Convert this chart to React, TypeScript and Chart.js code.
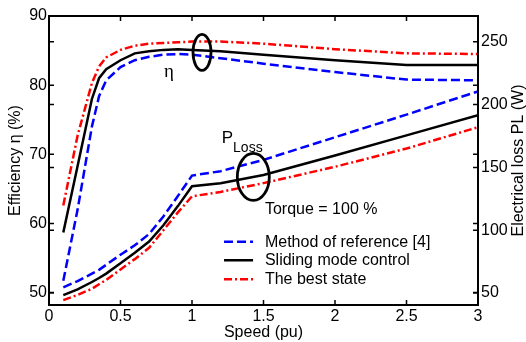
import React, { useEffect, useRef } from "react";
import { Chart, registerables } from "chart.js";

Chart.register(...registerables);

// ---- data ----
const speed = [0.1, 0.2, 0.3, 0.35, 0.4, 0.5, 0.6, 0.7, 0.8, 0.9, 1.0, 1.2, 1.5, 2, 2.5, 3];

const effReference = [51.7, 62.0, 74.0, 78.4, 80.7, 82.6, 83.6, 84.1, 84.4, 84.5, 84.4, 83.9, 83.1, 81.9, 80.8, 80.7];
const effSliding = [58.7, 68.3, 78.0, 81.0, 82.3, 83.6, 84.6, 84.9, 85.1, 85.2, 85.1, 84.9, 84.4, 83.6, 82.9, 82.9];
const effBest = [62.6, 72.7, 80.3, 82.7, 84.0, 85.1, 85.7, 86.0, 86.1, 86.2, 86.3, 86.3, 86.0, 85.2, 84.6, 84.5];

const lossReference = [54.6, 59.5, 65.4, 68.5, 72.5, 80.5, 88, 97, 111, 127, 143.5, 147, 156, 174, 192, 210.5];
const lossSliding = [48.4, 53, 58.8, 62, 65.5, 73.8, 82, 91, 104, 119, 135, 137.4, 144, 159.5, 175.5, 191.5];
const lossBest = [44.4, 48.5, 53.4, 57, 60.5, 68.8, 77, 86, 100, 114, 127, 130.5, 137.5, 150.5, 165, 182];

const xTicks = [0, 0.5, 1, 1.5, 2, 2.5, 3];
const effTicks = [50, 60, 70, 80, 90];
const lossTicks = [50, 100, 150, 200, 250];

const seriesNames = ["Method of reference [4]", "Sliding mode control", "The best state"];
const seriesColors = ["#0000ff", "#000000", "#ff0000"];
const seriesDash: number[][] = [[9, 4], [], [8, 3, 2, 3]];

const FONT = "'Liberation Sans', Arial, Helvetica, sans-serif";

function pts(ys: number[]) {
  return speed.map((x, i) => ({ x, y: ys[i] }));
}

const decor = {
  id: "decor",
  afterDatasetsDraw(chart: any) {
    const { ctx, chartArea: a, scales } = chart;
    const sx = scales.x, sy = scales.y, sy1 = scales.y1;
    ctx.save();
    ctx.strokeStyle = "#000";
    ctx.fillStyle = "#000";
    ctx.setLineDash([]);

    // inward tick marks (both sides)
    ctx.lineWidth = 1.5;
    const tl = 5;
    ctx.beginPath();
    xTicks.forEach((v) => {
      const px = sx.getPixelForValue(v);
      ctx.moveTo(px, a.bottom);
      ctx.lineTo(px, a.bottom - tl);
      ctx.moveTo(px, a.top);
      ctx.lineTo(px, a.top + tl);
    });
    const ys = [
      ...effTicks.map((v) => sy.getPixelForValue(v)),
      ...lossTicks.map((v) => sy1.getPixelForValue(v)),
    ];
    ys.forEach((py) => {
      ctx.moveTo(a.left, py);
      ctx.lineTo(a.left + tl, py);
      ctx.moveTo(a.right, py);
      ctx.lineTo(a.right - tl, py);
    });
    ctx.stroke();

    // box
    ctx.lineWidth = 2;
    ctx.strokeRect(a.left, a.top, a.right - a.left, a.bottom - a.top);

    // ellipses
    ctx.lineWidth = 2.8;
    ctx.beginPath();
    ctx.ellipse(sx.getPixelForValue(1.07), sy.getPixelForValue(84.75), 9, 18, 0, 0, Math.PI * 2);
    ctx.stroke();
    ctx.beginPath();
    ctx.ellipse(sx.getPixelForValue(1.4287), sy1.getPixelForValue(142.4), 16, 23.5, 0, 0, Math.PI * 2);
    ctx.stroke();

    // eta label
    ctx.textBaseline = "alphabetic";
    ctx.textAlign = "center";
    ctx.font = "19px 'Liberation Serif', 'DejaVu Serif', serif";
    ctx.fillText("\u03b7", sx.getPixelForValue(0.839), sy.getPixelForValue(81.18));

    // P_Loss label
    ctx.textAlign = "left";
    const pX = sx.getPixelForValue(1.208);
    ctx.font = `17px ${FONT}`;
    ctx.fillText("P", pX, sy1.getPixelForValue(169.2));
    const pw = ctx.measureText("P").width;
    ctx.font = `14px ${FONT}`;
    ctx.fillText("Loss", pX + pw, sy1.getPixelForValue(162.5));

    // Torque text
    ctx.font = `16px ${FONT}`;
    ctx.fillText("Torque = 100 %", sx.getPixelForValue(1.51), sy1.getPixelForValue(112.8));

    // legend
    const legY = [90.9, 76.1, 61.0];
    ctx.textBaseline = "middle";
    seriesNames.forEach((name, i) => {
      const y = sy1.getPixelForValue(legY[i]);
      ctx.save();
      ctx.strokeStyle = seriesColors[i];
      ctx.lineWidth = 2.5;
      ctx.setLineDash(seriesDash[i]);
      ctx.beginPath();
      ctx.moveTo(sx.getPixelForValue(1.224), y);
      ctx.lineTo(sx.getPixelForValue(1.427), y);
      ctx.stroke();
      ctx.restore();
      ctx.fillText(name, sx.getPixelForValue(1.51), y + 0.5);
    });

    // right axis title (reads bottom to top)
    ctx.save();
    ctx.translate(519, (a.top + a.bottom) / 2);
    ctx.rotate(-Math.PI / 2);
    ctx.textAlign = "center";
    ctx.textBaseline = "middle";
    ctx.font = `16px ${FONT}`;
    ctx.fillText("Electrical loss PL (W)", 0, 0);
    ctx.restore();

    ctx.restore();
  },
};

export default function App() {
  const ref = useRef<HTMLCanvasElement | null>(null);

  useEffect(() => {
    if (!ref.current) return;
    Chart.defaults.font.family = FONT;
    Chart.defaults.font.size = 16;
    Chart.defaults.color = "#000";

    const mk = (label: string, ys: number[], i: number, axis: string) => ({
      label,
      data: pts(ys),
      yAxisID: axis,
      borderColor: seriesColors[i],
      borderWidth: 2.5,
      borderDash: seriesDash[i],
      pointRadius: 0,
      tension: 0,
      fill: false,
    });

    const chart = new Chart(ref.current, {
      type: "line",
      data: {
        datasets: [
          mk(seriesNames[0] + " (η)", effReference, 0, "y"),
          mk(seriesNames[1] + " (η)", effSliding, 1, "y"),
          mk(seriesNames[2] + " (η)", effBest, 2, "y"),
          mk(seriesNames[0] + " (PL)", lossReference, 0, "y1"),
          mk(seriesNames[1] + " (PL)", lossSliding, 1, "y1"),
          mk(seriesNames[2] + " (PL)", lossBest, 2, "y1"),
        ],
      },
      options: {
        responsive: false,
        animation: false,
        devicePixelRatio: 1,
        layout: { padding: { top: 16, left: 0, right: 0, bottom: 0 } },
        plugins: { legend: { display: false }, tooltip: { enabled: false }, title: { display: false } },
        scales: {
          x: {
            type: "linear",
            min: 0,
            max: 3,
            grid: { display: false, drawTicks: false },
            border: { display: false },
            ticks: {
              padding: 2,
              maxRotation: 0,
              autoSkip: false,
              font: { size: 16 },
              callback: (v: any) => String(Number(v)),
            },
            afterBuildTicks: (s: any) => { s.ticks = xTicks.map((v) => ({ value: v })); },
            afterFit: (s: any) => { s.height = 37; },
            title: { display: true, text: "Speed (pu)", padding: { top: 0, bottom: 0 }, font: { size: 16 } },
          },
          y: {
            type: "linear",
            position: "left",
            min: 48.2,
            max: 90,
            grid: { display: false, drawTicks: false },
            border: { display: false },
            ticks: { padding: 2, autoSkip: false, font: { size: 16 }, callback: (v: any) => String(Number(v)) },
            afterBuildTicks: (s: any) => { s.ticks = effTicks.map((v) => ({ value: v })); },
            afterFit: (s: any) => { s.width = 49; },
            title: { display: true, text: "Efficiency η (%)", padding: { top: 6, bottom: 0 }, font: { size: 16 } },
          },
          y1: {
            type: "linear",
            position: "right",
            min: 40.5,
            max: 270.5,
            grid: { display: false, drawTicks: false },
            border: { display: false },
            ticks: { padding: 3, autoSkip: false, font: { size: 16 }, callback: (v: any) => String(Number(v)) },
            afterBuildTicks: (s: any) => { s.ticks = lossTicks.map((v) => ({ value: v })); },
            afterFit: (s: any) => { s.width = 48; },
          },
        },
      } as any,
      plugins: [decor],
    });
    return () => chart.destroy();
  }, []);

  return (
    <div style={{ position: "absolute", left: 0, top: 0, width: 526, height: 342, background: "#fff" }}>
      <canvas ref={ref} width={526} height={342} />
    </div>
  );
}
